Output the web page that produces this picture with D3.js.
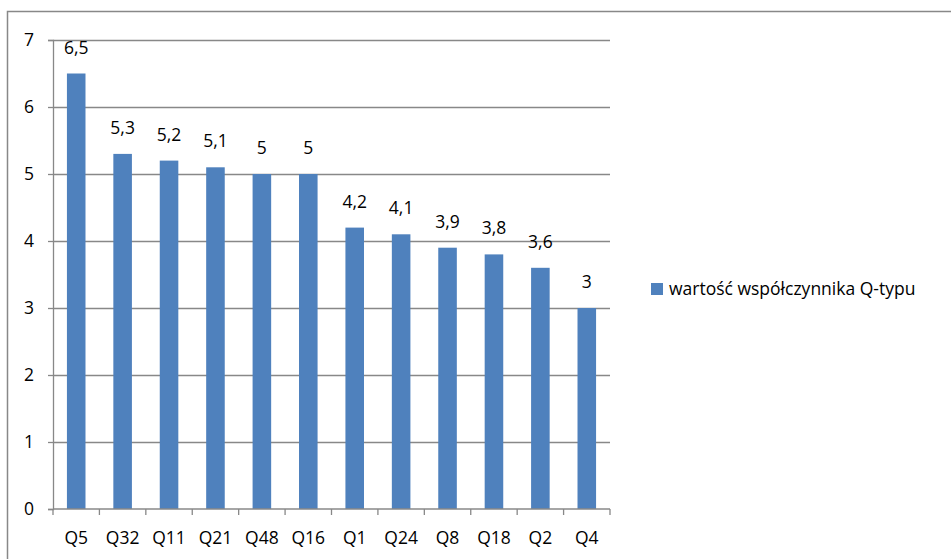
<!DOCTYPE html>
<html>
<head>
<meta charset="utf-8">
<script src="https://cdn.jsdelivr.net/npm/d3@7"></script>
<style>
  body { margin: 0; background: #fff; }
  svg { display: block; font-family: "Open Sans", "Noto Sans", sans-serif; }
</style>
</head>
<body>
<div id="chart"></div>
<script>
const categories = ["Q5", "Q32", "Q11", "Q21", "Q48", "Q16", "Q1", "Q24", "Q8", "Q18", "Q2", "Q4"];
const values = [6.5, 5.3, 5.2, 5.1, 5, 5, 4.2, 4.1, 3.9, 3.8, 3.6, 3];
const yTicks = [0, 1, 2, 3, 4, 5, 6, 7];
const seriesName = "wartość współczynnika Q-typu";

const WIDTH = 951;
const HEIGHT = 559;
const MARGIN = { top: 40, right: 341, bottom: 50, left: 53 };
const BAR_COLOR = "#4f81bd";
const GRID_COLOR = "#888888";
const TEXT_COLOR = "#000000";
const FONT_SIZE = 17.5;

const data = categories.map((c, i) => ({ category: c, value: values[i] }));

const svg = d3
  .select("#chart")
  .append("svg")
  .attr("width", WIDTH)
  .attr("height", HEIGHT);

// outer chart frame (runs off the bottom/right edge in the reference)
svg
  .append("rect")
  .attr("x", 7.5)
  .attr("y", 11.5)
  .attr("width", WIDTH + 20)
  .attr("height", HEIGHT + 20)
  .attr("fill", "none")
  .attr("stroke", GRID_COLOR)
  .attr("stroke-width", 1.5);

const x = d3
  .scaleBand()
  .domain(categories)
  .range([MARGIN.left, WIDTH - MARGIN.right])
  .paddingInner(0.6)
  .paddingOuter(0.3);

const xTick = d3
  .scaleBand()
  .domain(categories)
  .range([MARGIN.left, WIDTH - MARGIN.right]);

const y = d3
  .scaleLinear()
  .domain([0, 7])
  .range([HEIGHT - MARGIN.bottom, MARGIN.top]);

// gridlines
svg
  .append("g")
  .selectAll("line")
  .data(yTicks.filter((t) => t > 0))
  .join("line")
  .attr("x1", MARGIN.left)
  .attr("x2", WIDTH - MARGIN.right)
  .attr("y1", (d) => Math.round(y(d)) + 0.5)
  .attr("y2", (d) => Math.round(y(d)) + 0.5)
  .attr("stroke", GRID_COLOR)
  .attr("stroke-width", 1.3);

// y axis
svg
  .append("g")
  .attr("transform", `translate(${MARGIN.left},0)`)
  .call(d3.axisLeft(y).tickValues(yTicks).tickSize(5).tickPadding(14).tickFormat(d3.format("d")))
  .call((g) => g.selectAll("path").attr("stroke", GRID_COLOR).attr("stroke-width", 1.3))
  .call((g) => g.selectAll("line").attr("stroke", GRID_COLOR).attr("stroke-width", 1.3))
  .call((g) => g.selectAll("text").attr("fill", TEXT_COLOR).attr("font-size", FONT_SIZE).attr("font-family", "Open Sans"));

// bars
svg
  .append("g")
  .selectAll("rect")
  .data(data)
  .join("rect")
  .attr("x", (d) => x(d.category))
  .attr("y", (d) => y(d.value))
  .attr("width", x.bandwidth())
  .attr("height", (d) => y(0) - y(d.value))
  .attr("fill", BAR_COLOR);

// x axis
const xAxis = svg
  .append("g")
  .attr("transform", `translate(0,${y(0)})`);

xAxis
  .append("line")
  .attr("x1", MARGIN.left)
  .attr("x2", WIDTH - MARGIN.right)
  .attr("stroke", GRID_COLOR)
  .attr("stroke-width", 1.3);

xAxis
  .selectAll(".tick")
  .data(categories.concat([null]))
  .join("line")
  .attr("x1", (d) => (d ? xTick(d) : WIDTH - MARGIN.right))
  .attr("x2", (d) => (d ? xTick(d) : WIDTH - MARGIN.right))
  .attr("y1", 0)
  .attr("y2", 6)
  .attr("stroke", GRID_COLOR)
  .attr("stroke-width", 1.3);

xAxis
  .selectAll("text")
  .data(categories)
  .join("text")
  .attr("x", (d) => xTick(d) + xTick.bandwidth() / 2)
  .attr("y", 35)
  .attr("text-anchor", "middle")
  .attr("font-size", FONT_SIZE)
  .attr("fill", TEXT_COLOR)
  .text((d) => d);

// value labels
svg
  .append("g")
  .selectAll("text")
  .data(data)
  .join("text")
  .attr("x", (d) => x(d.category) + x.bandwidth() / 2)
  .attr("y", (d) => y(d.value) - 20)
  .attr("text-anchor", "middle")
  .attr("font-size", FONT_SIZE)
  .attr("fill", TEXT_COLOR)
  .text((d) => String(d.value).replace(".", ","));

// legend
const legend = svg.append("g").attr("transform", "translate(651,283)");
legend
  .append("rect")
  .attr("width", 12)
  .attr("height", 12)
  .attr("fill", BAR_COLOR);
legend
  .append("text")
  .attr("x", 18)
  .attr("y", 12)
  .attr("font-size", FONT_SIZE)
  .attr("fill", TEXT_COLOR)
  .text(seriesName);
</script>
</body>
</html>
